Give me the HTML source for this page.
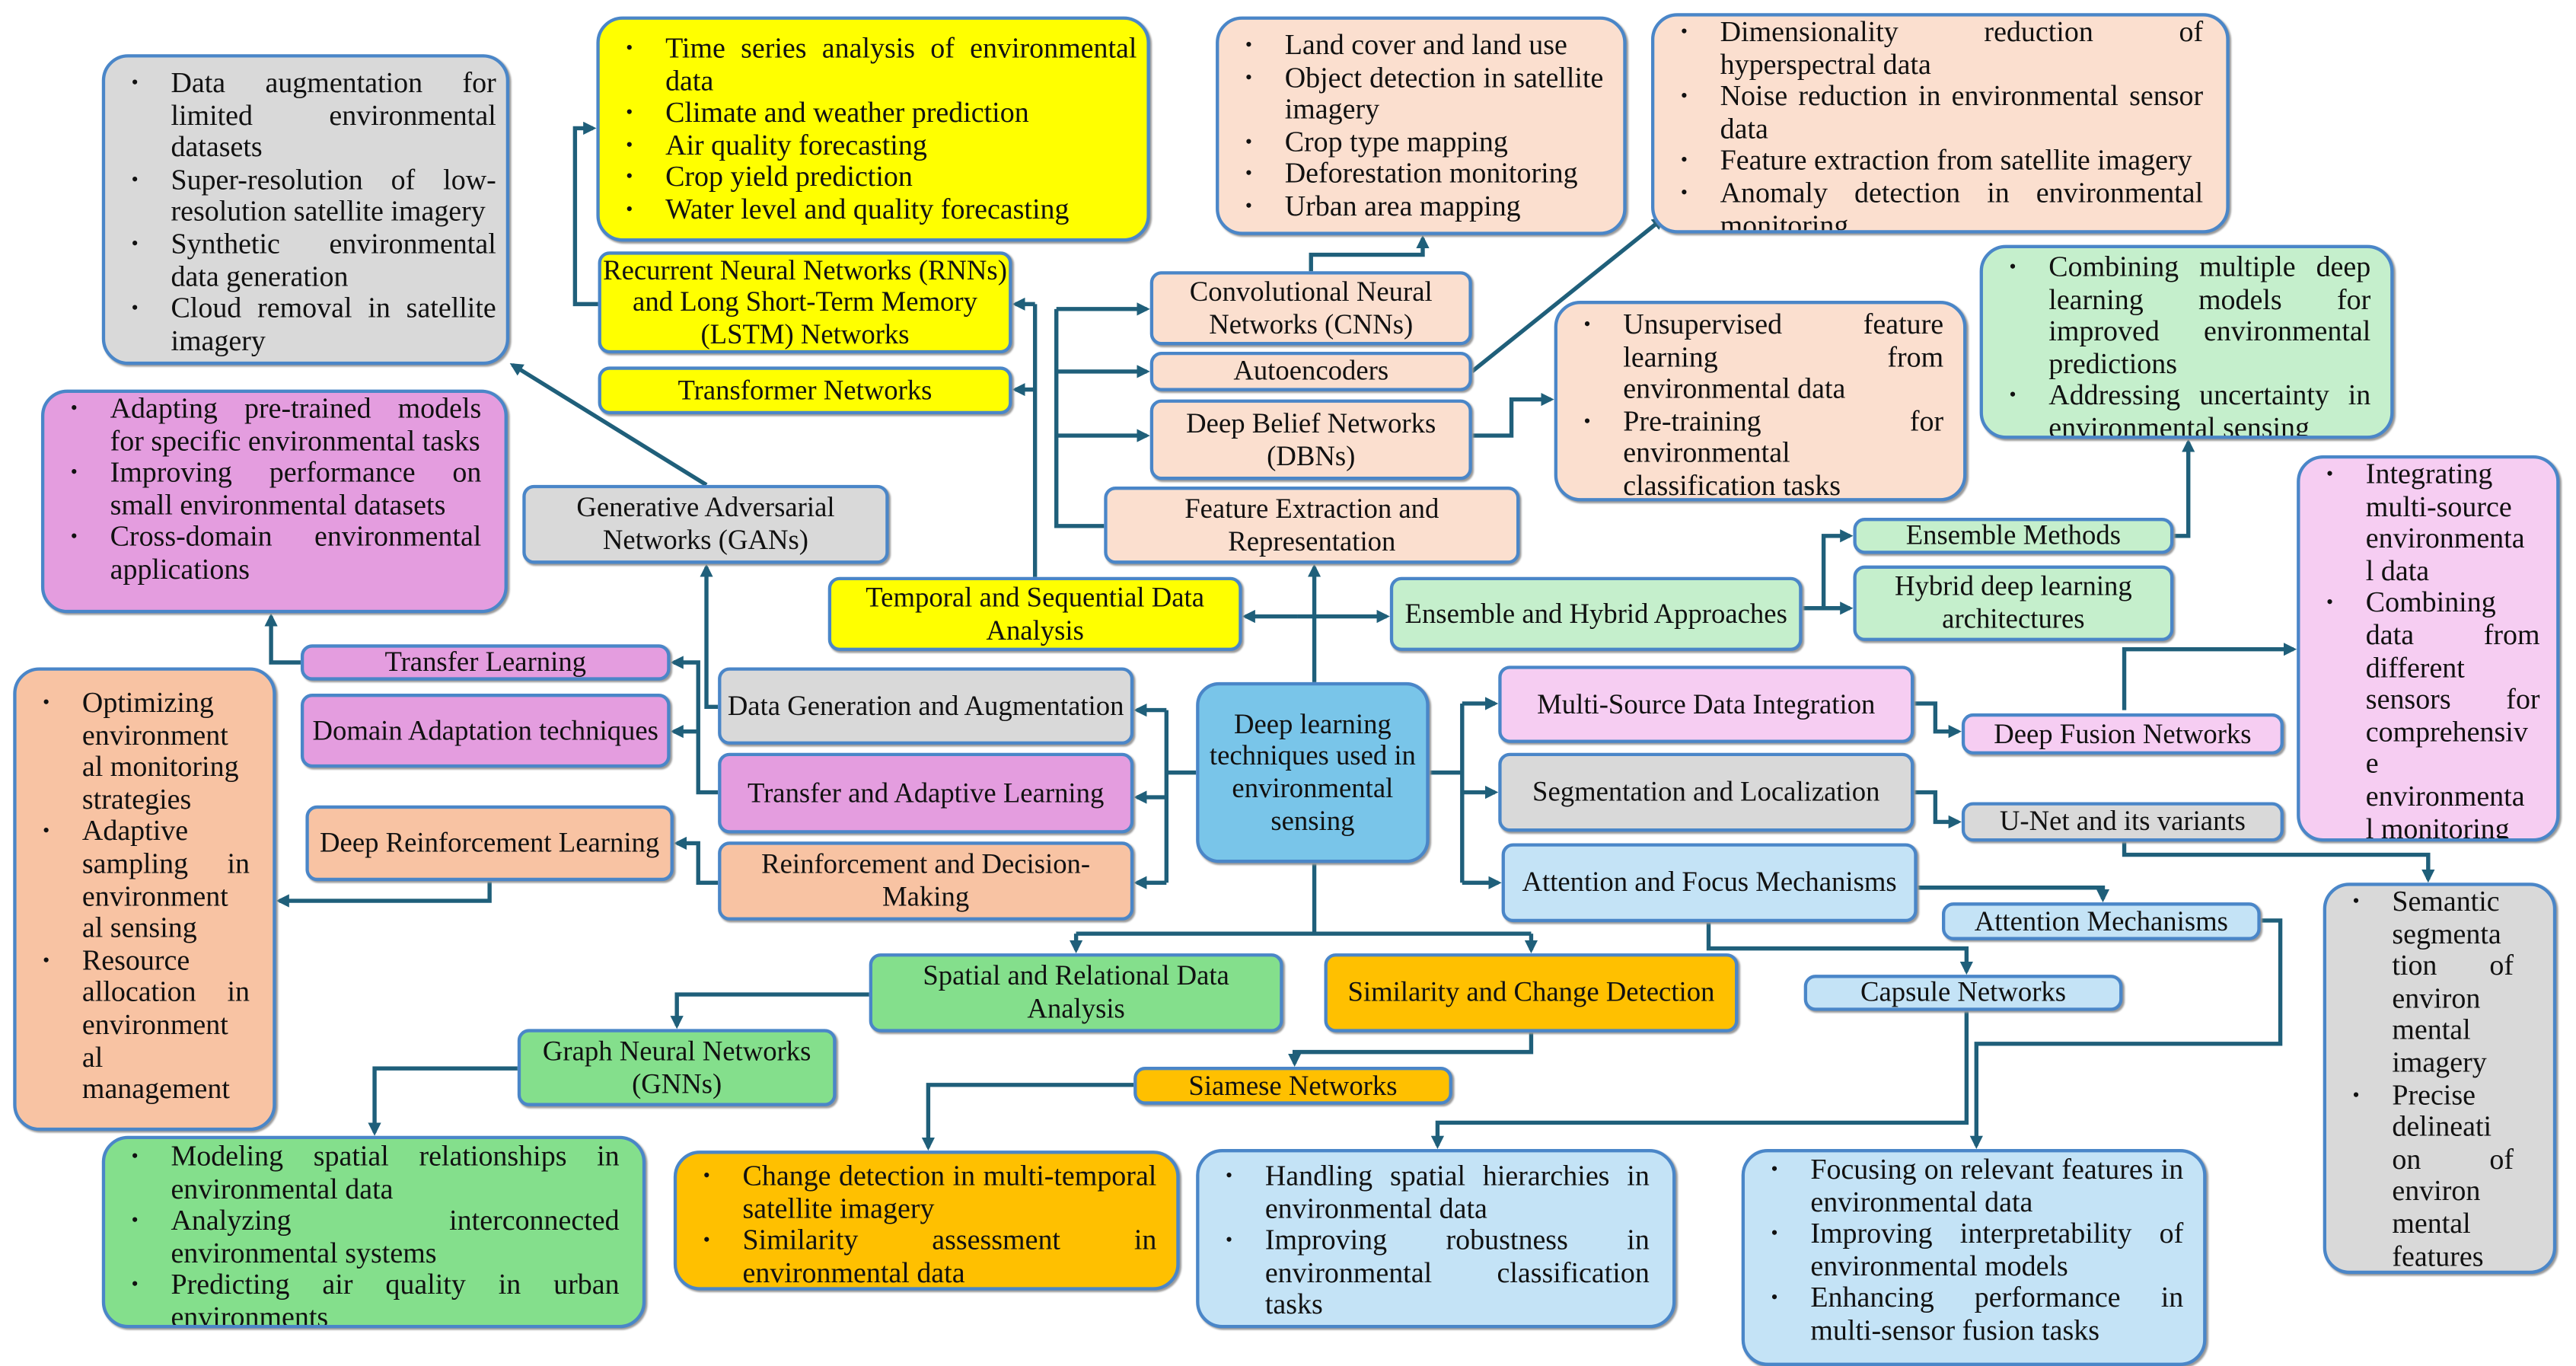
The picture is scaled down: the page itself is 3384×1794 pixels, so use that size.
<!DOCTYPE html>
<html><head><meta charset="utf-8"><style>
body{margin:0;background:#fff;width:3384px;height:1794px;overflow:hidden}
#w{position:absolute;left:0;top:0;width:1568px;height:831px;transform:scale(2.1582,2.1588);transform-origin:0 0;font-family:"Liberation Serif",serif;color:#111}
.b{position:absolute;box-sizing:border-box;border:2px solid #4a86c8;border-radius:7px;display:flex;align-items:center;justify-content:center;text-align:center;font-size:17px;line-height:19.6px;box-shadow:1px 1px 1px #999}
.l{position:absolute;box-sizing:border-box;border:2px solid #4a86c8;border-radius:16px;font-size:17.6px;line-height:19.6px;text-align:justify;box-shadow:1px 1px 1px #999;overflow:hidden}
.l ul{margin:0;padding:0 6px 0 40px}
.l li{list-style:none;position:relative}
.l li:before{content:"•";position:absolute;left:-24px;font-size:12px}
.j{text-align-last:justify}
svg{position:absolute;left:0;top:0}
.G{background:#d9d9d9}.Y{background:#ffff00}.P{background:#fbdfcf}.PD{background:#f8c3a3}.M{background:#e49ddf}.LM{background:#f6cdf2}.GR{background:#84df8c}.LG{background:#c5efcc}.O{background:#ffc000}.LB{background:#c4e3f6}.C{background:#79c5e9}
</style></head><body><div id="w">
<svg width="1568" height="831" viewBox="0 0 1568 831">
<defs><marker id="a" markerWidth="8" markerHeight="8" refX="6" refY="4" orient="auto" markerUnits="userSpaceOnUse"><path d="M0,0L8,4L0,8z" fill="#1f5f7a"/></marker></defs>
<g fill="none" stroke="#1f5f7a" stroke-width="2.5">
<path d="M364,185H350V78H361" marker-end="url(#a)"/>
<path d="M630,351V185"/><path d="M630,185H618" marker-end="url(#a)"/><path d="M630,237H618" marker-end="url(#a)"/>
<path d="M672,320H643V188"/><path d="M643,188H698" marker-end="url(#a)"/><path d="M643,226H698" marker-end="url(#a)"/><path d="M643,265H698" marker-end="url(#a)"/>
<path d="M800,415V345" marker-end="url(#a)"/>
<path d="M790,375H758" marker-end="url(#a)"/><path d="M790,375H844" marker-end="url(#a)"/>
<path d="M798,165V155H866V145" marker-end="url(#a)"/>
<path d="M896,226L1012,133" marker-end="url(#a)"/>
<path d="M896,265H920V243H944" marker-end="url(#a)"/>
<path d="M1097,370H1110V326H1126" marker-end="url(#a)"/><path d="M1110,370H1126" marker-end="url(#a)"/>
<path d="M1323,326H1332V269" marker-end="url(#a)"/>
<path d="M1293,432V395H1396" marker-end="url(#a)"/>
<path d="M1165,428H1178V445H1192" marker-end="url(#a)"/>
<path d="M1165,482H1178V500H1192" marker-end="url(#a)"/>
<path d="M1293,512V520H1478V535" marker-end="url(#a)"/>
<path d="M870,470H890"/><path d="M890,428V537"/><path d="M890,428H910" marker-end="url(#a)"/><path d="M890,482H910" marker-end="url(#a)"/><path d="M890,537H912" marker-end="url(#a)"/>
<path d="M728,470H710"/><path d="M710,432V537"/><path d="M710,432H692" marker-end="url(#a)"/><path d="M710,485H692" marker-end="url(#a)"/><path d="M710,537H692" marker-end="url(#a)"/>
<path d="M437,482H425V403H410" marker-end="url(#a)"/><path d="M425,445H410" marker-end="url(#a)"/>
<path d="M437,430H430V345" marker-end="url(#a)"/>
<path d="M430,295L312,222" marker-end="url(#a)"/>
<path d="M183,403H165V375" marker-end="url(#a)"/>
<path d="M437,537H425V513H412" marker-end="url(#a)"/>
<path d="M298,536V548H170" marker-end="url(#a)"/>
<path d="M800,525V568"/><path d="M655,568H932"/><path d="M655,568V578" marker-end="url(#a)"/><path d="M932,568V578" marker-end="url(#a)"/>
<path d="M529,605H412V624" marker-end="url(#a)"/>
<path d="M315,650H228V689" marker-end="url(#a)"/>
<path d="M932,628V640H788V647" marker-end="url(#a)"/>
<path d="M690,660H565V698" marker-end="url(#a)"/>
<path d="M1167,540H1280V547" marker-end="url(#a)"/>
<path d="M1040,561V577H1197V591" marker-end="url(#a)"/>
<path d="M1197,615V683H875V697" marker-end="url(#a)"/>
<path d="M1376,560H1388V635H1203V697" marker-end="url(#a)"/>
</g></svg>

<div class="l G" style="left:62px;top:33px;width:248px;height:189px;padding-top:6px"><ul><li>Data augmentation for limited environmental datasets</li><li>Super-resolution of low-resolution satellite imagery</li><li>Synthetic environmental data generation</li><li>Cloud removal in satellite imagery</li></ul></div>
<div class="l Y" style="left:363px;top:10px;width:337px;height:137px;padding-top:8px"><ul><li>Time series analysis of environmental data</li><li>Climate and weather prediction</li><li>Air quality forecasting</li><li>Crop yield prediction</li><li>Water level and quality forecasting</li></ul></div>
<div class="l P" style="left:740px;top:10px;width:250px;height:133px;padding-top:6px"><ul style="padding-right:12px"><li>Land cover and land use</li><li>Object detection in satellite imagery</li><li>Crop type mapping</li><li>Deforestation monitoring</li><li>Urban area mapping</li></ul></div>
<div class="l P" style="left:1005px;top:8px;width:352px;height:134px;padding-top:0px"><ul style="padding-right:14px"><li>Dimensionality reduction of hyperspectral data</li><li>Noise reduction in environmental sensor data</li><li>Feature extraction from satellite imagery</li><li>Anomaly detection in environmental monitoring</li></ul></div>
<div class="b Y" style="left:364px;top:153px;width:252px;height:62px">Recurrent Neural Networks (RNNs) and Long Short-Term Memory (LSTM) Networks</div>
<div class="b Y" style="left:364px;top:223px;width:252px;height:29px">Transformer Networks</div>
<div class="b P" style="left:700px;top:165px;width:196px;height:45px">Convolutional Neural Networks (CNNs)</div>
<div class="b P" style="left:700px;top:214px;width:196px;height:24px">Autoencoders</div>
<div class="b P" style="left:700px;top:243px;width:196px;height:49px">Deep Belief Networks (DBNs)</div>
<div class="b P" style="left:672px;top:296px;width:253px;height:47px">Feature Extraction and Representation</div>
<div class="l P" style="left:946px;top:183px;width:251px;height:122px;padding-top:3px"><ul style="padding-right:12px"><li>Unsupervised feature learning from environmental data</li><li>Pre-training for environmental classification tasks</li></ul></div>
<div class="l LG" style="left:1205px;top:149px;width:252px;height:118px;padding-top:2px"><ul style="padding-right:12px"><li>Combining multiple deep learning models for improved environmental predictions</li><li>Addressing uncertainty in environmental sensing</li></ul></div>
<div class="l M" style="left:25px;top:237px;width:284px;height:136px;padding-top:0px"><ul style="padding-right:14px"><li>Adapting pre-trained models for specific environmental tasks</li><li>Improving performance on small environmental datasets</li><li>Cross-domain environmental applications</li></ul></div>
<div class="b G" style="left:318px;top:295px;width:223px;height:48px">Generative Adversarial Networks (GANs)</div>
<div class="b Y" style="left:504px;top:351px;width:252px;height:45px">Temporal and Sequential Data Analysis</div>
<div class="b LG" style="left:846px;top:351px;width:251px;height:45px">Ensemble and Hybrid Approaches</div>
<div class="b LG" style="left:1128px;top:315px;width:195px;height:22px">Ensemble Methods</div>
<div class="b LG" style="left:1128px;top:344px;width:195px;height:46px">Hybrid deep learning architectures</div>
<div class="l LM" style="left:1398px;top:277px;width:160px;height:235px;padding-top:0px"><ul style="padding-right:10px"><li><div>Integrating</div><div>multi-source</div><div>environmenta</div><div>l data</div></li><li><div>Combining</div><div class="j">data from</div><div>different</div><div class="j">sensors for</div><div>comprehensiv</div><div>e</div><div>environmenta</div><div>l monitoring</div></li></ul></div>
<div class="b M" style="left:183px;top:392px;width:225px;height:22px">Transfer Learning</div>
<div class="b M" style="left:183px;top:422px;width:225px;height:45px">Domain Adaptation techniques</div>
<div class="l PD" style="left:8px;top:406px;width:160px;height:282px;padding-top:10px"><ul style="padding-right:14px"><li><div>Optimizing</div><div>environment</div><div>al monitoring</div><div>strategies</div></li><li><div>Adaptive</div><div class="j">sampling in</div><div>environment</div><div>al sensing</div></li><li><div>Resource</div><div class="j">allocation in</div><div>environment</div><div>al</div><div>management</div></li></ul></div>
<div class="b G" style="left:437px;top:406px;width:253px;height:47px">Data Generation and Augmentation</div>
<div class="b M" style="left:437px;top:458px;width:253px;height:49px">Transfer and Adaptive Learning</div>
<div class="b PD" style="left:186px;top:490px;width:224px;height:46px">Deep Reinforcement Learning</div>
<div class="b PD" style="left:437px;top:512px;width:253px;height:48px">Reinforcement and Decision-Making</div>
<div class="b C" style="left:728px;top:415px;width:142px;height:110px;border-radius:14px;padding:0 6px">Deep learning techniques used in environmental sensing</div>
<div class="b LM" style="left:912px;top:405px;width:253px;height:47px">Multi-Source Data Integration</div>
<div class="b LM" style="left:1194px;top:434px;width:196px;height:25px">Deep Fusion Networks</div>
<div class="b G" style="left:912px;top:458px;width:253px;height:48px">Segmentation and Localization</div>
<div class="b G" style="left:1194px;top:488px;width:196px;height:24px">U-Net and its variants</div>
<div class="b LB" style="left:914px;top:513px;width:253px;height:48px">Attention and Focus Mechanisms</div>
<div class="b LB" style="left:1182px;top:549px;width:194px;height:23px">Attention Mechanisms</div>
<div class="l G" style="left:1414px;top:537px;width:142px;height:238px;padding-top:0px"><ul style="padding-right:24px"><li><div>Semantic</div><div>segmenta</div><div class="j">tion of</div><div>environ</div><div>mental</div><div>imagery</div></li><li><div>Precise</div><div>delineati</div><div class="j">on of</div><div>environ</div><div>mental</div><div>features</div></li></ul></div>
<div class="b GR" style="left:529px;top:580px;width:252px;height:48px">Spatial and Relational Data Analysis</div>
<div class="b O" style="left:806px;top:580px;width:252px;height:48px">Similarity and Change Detection</div>
<div class="b LB" style="left:1098px;top:593px;width:194px;height:22px">Capsule Networks</div>
<div class="b GR" style="left:315px;top:626px;width:194px;height:47px">Graph Neural Networks (GNNs)</div>
<div class="b O" style="left:690px;top:649px;width:194px;height:23px">Siamese Networks</div>
<div class="l GR" style="left:62px;top:691px;width:331px;height:117px;padding-top:1px"><ul style="padding-right:14px"><li>Modeling spatial relationships in environmental data</li><li>Analyzing interconnected environmental systems</li><li>Predicting air quality in urban environments</li></ul></div>
<div class="l O" style="left:410px;top:700px;width:308px;height:85px;padding-top:4px"><ul style="padding-right:12px"><li>Change detection in multi-temporal satellite imagery</li><li>Similarity assessment in environmental data</li></ul></div>
<div class="l LB" style="left:728px;top:699px;width:292px;height:109px;padding-top:5px"><ul style="padding-right:14px"><li>Handling spatial hierarchies in environmental data</li><li>Improving robustness in environmental classification tasks</li></ul></div>
<div class="l LB" style="left:1060px;top:699px;width:283px;height:132px;padding-top:1px"><ul style="padding-right:12px"><li>Focusing on relevant features in environmental data</li><li>Improving interpretability of environmental models</li><li>Enhancing performance in multi-sensor fusion tasks</li></ul></div>
</div></body></html>
